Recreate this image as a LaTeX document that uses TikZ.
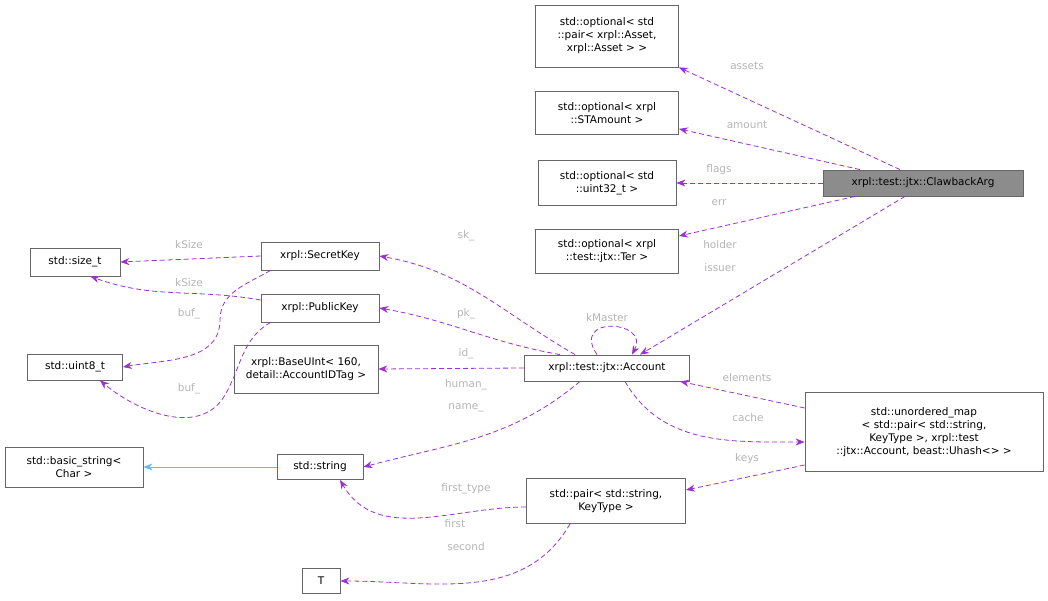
\documentclass[tikz,border=0pt]{standalone}
\usepackage{fontspec}
\setmainfont{DejaVu Sans}
\usetikzlibrary{arrows.meta}
\definecolor{edgec}{HTML}{9A32CD}
\definecolor{labc}{HTML}{B4B4B4}
\definecolor{inhc}{HTML}{63B8FF}
\begin{document}
\begin{tikzpicture}[x=1pt,y=-1pt,
  box/.style={draw=black!60,fill=white,align=center,inner sep=2pt,line width=0.8pt,font=\fontsize{10.5}{13}\selectfont},
  rel/.style={color=edgec,draw=edgec,line width=0.8pt,dash pattern=on 5pt off 3pt,-{Stealth[length=9pt,width=7pt]}},
  lab/.style={text=labc,font=\fontsize{10.5}{12}\selectfont}]
\useasboundingbox (0,0) rectangle (1048,601);
\def\bx#1#2#3#4#5#6{\node[box,minimum width=#4,minimum height=#5] (#1) at (#2,#3) {#6};}
\bx{opa}{607}{36}{143}{62}{std::optional< std\\::pair< xrpl::Asset,\\ xrpl::Asset > >}
\bx{ost}{607}{113}{143}{43}{std::optional< xrpl\\::STAmount >}
\bx{ou}{607}{183}{138}{45}{std::optional< std\\::uint32\_t >}
\bx{ot}{607}{251}{143}{44}{std::optional< xrpl\\::test::jtx::Ter >}
\bx{sz}{75}{262}{90}{28}{std::size\_t}
\bx{sk}{320}{256}{118}{28}{xrpl::SecretKey}
\bx{pk}{320}{308}{118}{28}{xrpl::PublicKey}
\bx{u8}{75}{367}{95}{26}{std::uint8\_t}
\bx{bu}{306}{369}{144}{48}{xrpl::BaseUInt< 160,\\ detail::AccountIDTag >}
\bx{acc}{607}{368}{165}{26}{xrpl::test::jtx::Account}
\bx{bs}{74}{467}{138}{40}{std::basic\_string<\\ Char >}
\bx{str}{320}{467}{86}{25}{std::string}
\bx{um}{924}{432}{238}{79}{std::unordered\_map\\< std::pair< std::string,\\ KeyType >, xrpl::test\\::jtx::Account, beast::Uhash<> >}
\bx{pr}{606}{501}{159}{45}{std::pair< std::string,\\ KeyType >}
\bx{T}{321}{581}{38}{25}{T}
\node[box,fill=black!45,minimum width=200,minimum height=26] (cba) at (923,183) {xrpl::test::jtx::ClawbackArg};

\draw[rel] ([xshift=-23pt]cba.north) -- (opa.south east) ;
\node[lab] at (747,66) {assets};
\draw[rel] ([xshift=-63pt]cba.north) -- ([yshift=6pt]ost.south east);
\node[lab] at (747,125) {amount};
\draw[rel] (cba.west) -- (ou.east);
\node[lab] at (719,170) {flags};
\draw[rel] ([xshift=-68pt]cba.south) -- ([yshift=15pt]ot.east);
\node[lab] at (719,203) {err};
\draw[rel] ([xshift=-18pt]cba.south) -- ([xshift=33pt]acc.north);
\node[lab] at (720,245) {holder};
\node[lab] at (720,268) {issuer};
\draw[rel] ([xshift=-32pt]acc.north) to[out=150,in=-10] (sk.east);
\node[lab] at (466,236) {sk\_};
\draw[rel] ([xshift=-47pt]acc.north) to[out=170,in=-10] (pk.east);
\node[lab] at (466,314) {pk\_};
\draw[rel] (acc.west) -- (bu.east);
\node[lab] at (466,354) {id\_};
\draw[rel] ([xshift=-10pt]acc.north) .. controls (570,315) and (650,320) .. ([xshift=25pt]acc.north) ;
\node[lab] at (607,318) {kMaster};
\draw[rel] ([xshift=-27pt]acc.south) to[out=-140,in=15] (str.east);
\node[lab] at (466,385) {human\_};
\node[lab] at (466,408) {name\_};
\draw[rel] ([xshift=18pt]acc.south) to[out=-60,in=180] ([yshift=-10pt]um.west);
\node[lab] at (748,418) {cache};
\draw[rel] ([yshift=24pt]um.west) -- ([xshift=73pt]acc.south);
\node[lab] at (747,378) {elements};
\draw[rel] ([yshift=-33pt]um.west) -- ([yshift=11pt]pr.east);
\node[lab] at (747,459) {keys};
\draw[rel] ([yshift=-6pt]pr.west) to[out=180,in=-60] ([xshift=20pt]str.south);
\node[lab] at (466,489) {first\_type};
\draw[rel] ([xshift=-36pt]pr.south) to[out=-120,in=0] (T.east);
\node[lab] at (455,524) {first};
\node[lab] at (466,547) {second};
\draw[rel] (sk.west) -- (sz.east);
\node[lab] at (189,245) {kSize};
\draw[rel] ([yshift=8pt]pk.west) to[out=170,in=-20] ([xshift=-30pt]sz.south east);
\node[lab] at (189,283) {kSize};
\draw[rel] ([xshift=10pt]sk.south west) to[out=-150,in=90] (220,320) to[out=-90,in=10] (u8.east);
\node[lab] at (189,314) {buf\_};
\draw[rel] ([xshift=10pt]pk.south west) to[out=-150,in=60] (225,395) to[out=-120,in=-40] ([xshift=25pt]u8.south);
\node[lab] at (189,389) {buf\_};
\draw[draw=inhc,line width=0.8pt,-{Stealth[length=9pt,width=7pt]}] (str.west) -- (bs.east);
\end{tikzpicture}
\end{document}
